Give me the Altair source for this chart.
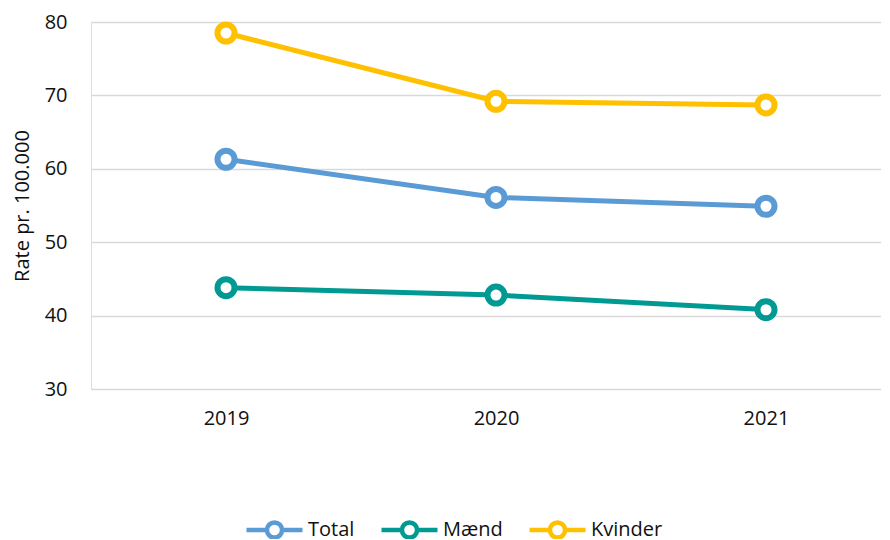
import altair as alt
import pandas as pd

years = ["2019", "2020", "2021"]
series = ["Total", "Mænd", "Kvinder"]
total = [61.3, 56.1, 54.9]
maend = [43.8, 42.8, 40.8]
kvinder = [78.5, 69.2, 68.7]
colors = ["#5B9BD5", "#009A93", "#FFC000"]

rows = []
for name, vals in zip(series, [total, maend, kvinder]):
    for y, v in zip(years, vals):
        rows.append({"År": y, "Serie": name, "Rate": v})
df = pd.DataFrame(rows)

FONT = "Open Sans"
W, H = 790, 367
TXT = "#111111"

sym_path = ("M-1,0L-0.27,0M0.27,0A0.27,0.27,0,1,1,-0.27,0"
            "A0.27,0.27,0,1,1,0.27,0M0.27,0L1,0")

x = alt.X("År:N", title=None,
          scale=alt.Scale(type="point", padding=0.463, align=0.54),
          axis=alt.Axis(labelAngle=0, labelFontSize=20, labelFont=FONT,
                        labelColor=TXT, ticks=False, domain=False,
                        labelPadding=19, grid=False))
y = alt.Y("Rate:Q", title="Rate pr. 100.000",
          scale=alt.Scale(domain=[30, 80], nice=False, zero=False),
          axis=alt.Axis(values=[30, 40, 50, 60, 70, 80], labelFontSize=20,
                        labelFont=FONT, labelColor=TXT, ticks=False,
                        domain=False, labelPadding=24, gridColor="#d9d9d9",
                        gridWidth=1.5, titleFontSize=20, titleFont=FONT,
                        titleFontWeight="normal", titleColor=TXT,
                        titleX=-69, titleY=H / 2, titleAngle=-90,
                        titleBaseline="middle", titleAlign="center"))
color = alt.Color("Serie:N", sort=series,
                  scale=alt.Scale(domain=series, range=colors),
                  legend=alt.Legend(title=None, orient="none", direction="horizontal",
                                    legendX=153, legendY=477,
                                    symbolType=sym_path, symbolSize=3136,
                                    symbolStrokeWidth=4.5, symbolFillColor="white",
                                    labelFontSize=20, labelFont=FONT,
                                    labelColor=TXT, columnPadding=17,
                                    labelOffset=3))

base = alt.Chart(df).encode(x=x, y=y, color=color)
lines = base.mark_line(strokeWidth=5)
points = base.mark_point(filled=False, fill="white", size=290, strokeWidth=6, opacity=1)

chart = (lines + points).properties(
    width=W, height=H,
    autosize=alt.AutoSizeParams(type="none"),
    padding={"left": 83, "top": 14, "right": 0, "bottom": 150},
).configure_view(stroke=None).configure(font=FONT)

chart.save("out.html", embed_options={"renderer": "svg", "actions": False})
